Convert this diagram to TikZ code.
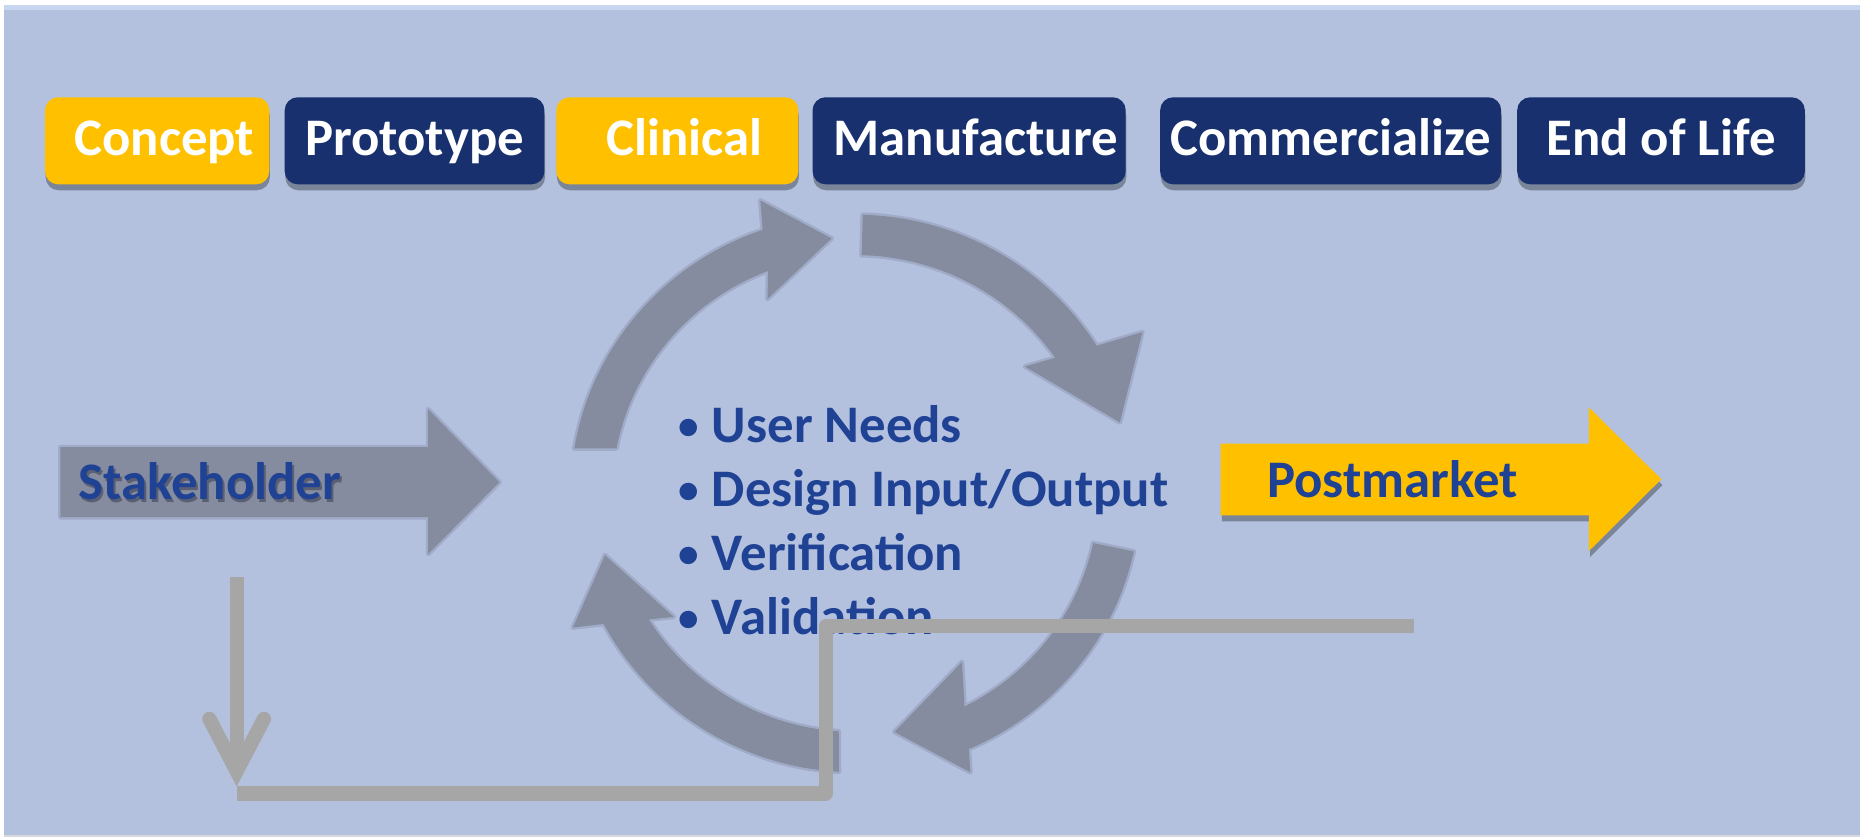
\documentclass[tikz,border=0pt]{standalone}
\usepackage{graphicx}
\usepackage{fontspec}
\setmainfont{Carlito}
\usetikzlibrary{shadows, arrows.meta}
\definecolor{bgBlue}{RGB}{179,193,223}
\definecolor{topStrip}{RGB}{200,214,240}
\definecolor{bottomStrip}{RGB}{214,216,222}
\definecolor{phaseGold}{RGB}{255,192,0}
\definecolor{phaseNavy}{RGB}{24,49,110}
\definecolor{boxShadow}{RGB}{123,133,153}
\definecolor{arrowGray}{RGB}{134,140,159}
\definecolor{arrowGlow}{RGB}{160,171,200}
\definecolor{textBlue}{RGB}{32,66,148}
\definecolor{textShadow}{RGB}{90,96,114}
\definecolor{lineGray}{RGB}{166,166,166}
\newcommand{\labelFont}{\fontsize{44.5}{54}\selectfont\bfseries}
\newcommand{\bulletItem}{\makebox[28pt][l]{\raisebox{2.5pt}{\scalebox{0.78}{\textbullet}}}}
\tikzstyle{phase}=[rounded corners=11pt, minimum height=73.4pt, inner sep=0pt, text=white, font=\labelFont, text height=30pt, text depth=4.4pt, drop shadow={shadow xshift=0.5pt, shadow yshift=-5pt, fill=boxShadow, opacity=1}]
\tikzstyle{blockArrow}=[fill=arrowGray, preaction={draw=arrowGlow, line width=4pt, line join=round}]
\tikzstyle{cycleArrow}=[blockArrow]
\tikzstyle{blueText}=[font=\labelFont, text=textBlue, inner sep=0pt, anchor=base west]
\tikzstyle{feedback}=[draw=lineGray, line width=12pt, line join=round]
% one of the four arrows round the design loop
\newcommand\drawCycleArrow[7]{%
  \path[cycleArrow] ([shift={(hub)}]#1:240 and 235)
    arc[start angle=#1, end angle=#2, x radius=240, y radius=235]
    -- #3 -- #4 -- #5
    -- ([shift={(hub)}]#6:205 and 201)
    arc[start angle=#6, end angle=#7, x radius=205, y radius=201] -- cycle;
}
\begin{document}
\begin{tikzpicture}[x=1pt, y=-1pt]
    \useasboundingbox (0,0) rectangle (1568,706);
    \fill[white] (0,0) rectangle (1568,706);
    \fill[topStrip] (3,4) rectangle (1568,9);
    \fill[bgBlue] (3,8.5) rectangle (1568,703.5);
    \fill[bottomStrip] (3,703.5) rectangle (1568,706);
    % life cycle phases
    \foreach \xc/\bw/\col/\pad/\nm/\txt in {132.5/189/phaseGold/12/concept/Concept,
      349.5/219/phaseNavy/0/prototype/Prototype, 571/204/phaseGold/12/clinical/Clinical,
      817/264/phaseNavy/11/manufacture/Manufacture, 1121.75/287.5/phaseNavy/0/commercialize/Commercialize,
      1400.25/242.5/phaseNavy/0/endOfLife/End of Life}
      \node[phase, fill=\col, minimum width=\bw pt] (\nm) at (\xc,118.7) {\hspace*{\pad pt}\txt};
    % stakeholder input
    \path[blockArrow] (51,377) -- (361,377) -- (361,345) -- (421,406.5)
      -- (361,467) -- (361,436) -- (51,436) -- cycle;
    \node[blueText, text=textShadow] (stakeShadow) at (67.5,423.5) {Stakeholder};
    \node[blueText] (stake) at (66,421.5) {Stakeholder};
    % postmarket output
    \fill[boxShadow] (1030,379) -- (1340.5,379) -- (1340.5,348.5) -- (1401.5,409)
      -- (1340.5,469.5) -- (1340.5,439.5) -- (1030,439.5) -- cycle;
    \fill[phaseGold] (1029,374) -- (1339.5,374) -- (1339.5,343.5) -- (1400.5,404)
      -- (1339.5,464.5) -- (1339.5,434.5) -- (1029,434.5) -- cycle;
    \node[blueText] (post) at (1068,419) {Postmarket};
    % design loop
    \coordinate (hub) at (721,416);
    \drawCycleArrow{189.3}{251}{(641,169)}{(701,201)}{(647,252)}{249}{190.9}
    \drawCycleArrow{271.5}{328}{(963,280)}{(944,356)}{(864,309)}{325.3}{271.5}
    \drawCycleArrow{12}{66.5}{(818,651)}{(754,617)}{(811,558)}{63.3}{12}
    \drawCycleArrow{93.3}{152.1}{(483,529)}{(510,468)}{(568,520)}{148.1}{93.9}
    \node[blueText] (steps) at (572,373) {\begin{tabular}[t]{@{}l@{}}
      \bulletItem User Needs\\
      \bulletItem Design Input/Output\\
      \bulletItem Verification\\
      \bulletItem Validation
    \end{tabular}};
    % feedback lines
    \coordinate (dropTop) at (199.5,486);
    \coordinate (dropTip) at (199.5,663);
    \coordinate (loopEnd) at (1192,528);
    \coordinate (loopTurn) at (696,528);
    \coordinate (loopCorner) at (696,669);
    \coordinate (loopStart) at (200,669);
    \draw[feedback, -{Straight Barb[length=44pt, width=46pt, line cap=round, line join=miter]}] (dropTop) -- (dropTip);
    \draw[feedback] (loopEnd) -- (loopTurn) -- (loopCorner) -- (loopStart);
\end{tikzpicture}
\end{document}
